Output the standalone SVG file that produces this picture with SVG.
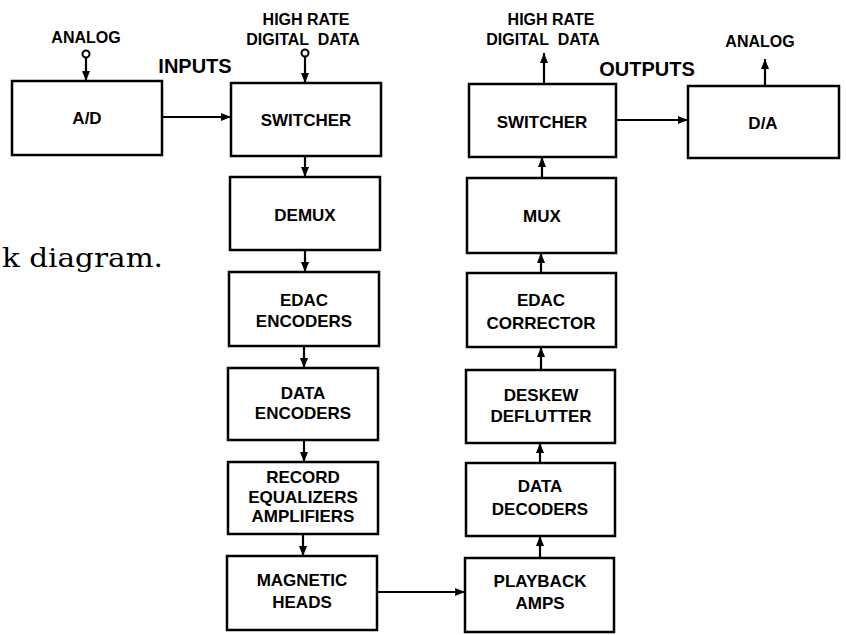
<svg xmlns="http://www.w3.org/2000/svg" width="846" height="635" viewBox="0 0 846 635">
<defs>
<style>
.box{fill:#fff;stroke:#000;stroke-width:2.5}
.ln{fill:none;stroke:#000;stroke-width:2.2;marker-end:url(#ah)}
.t{font-family:"Liberation Sans",Arial,sans-serif;font-weight:bold;font-size:17px;text-anchor:middle;fill:#000}
.lb{font-family:"Liberation Sans",Arial,sans-serif;font-weight:bold;font-size:16px;text-anchor:middle;fill:#000}
.big{font-family:"Liberation Sans",Arial,sans-serif;font-weight:bold;font-size:20px;text-anchor:middle;fill:#000}
.term{fill:#fff;stroke:#000;stroke-width:2}
.cap{font-family:"DejaVu Serif","Liberation Serif",serif;font-size:26px;fill:#000}
</style>
<marker id="ah" viewBox="0 0 10 8" refX="10" refY="4" markerWidth="10" markerHeight="8" markerUnits="userSpaceOnUse" orient="auto">
<path d="M0,0 L10,4 L0,8 z" fill="#000"/>
</marker>
</defs>
<rect width="846" height="635" fill="#fff"/>

<text class="cap" x="2" y="267" textLength="161" lengthAdjust="spacingAndGlyphs">k diagram.</text>

<text class="big" x="195" y="73">INPUTS</text>
<text class="big" x="647" y="76">OUTPUTS</text>

<g id="connectors">
<line class="ln" x1="86" y1="58" x2="86" y2="81"/>
<line class="ln" x1="305" y1="57" x2="305" y2="83"/>
<line class="ln" x1="162" y1="117" x2="231" y2="117"/>
<line class="ln" x1="305" y1="156" x2="305" y2="177"/>
<line class="ln" x1="305" y1="250" x2="305" y2="272"/>
<line class="ln" x1="304" y1="346" x2="304" y2="368"/>
<line class="ln" x1="304" y1="440" x2="304" y2="462"/>
<line class="ln" x1="303" y1="534" x2="303" y2="556"/>
<line class="ln" x1="377" y1="592" x2="465" y2="592"/>
<line class="ln" x1="540" y1="558" x2="540" y2="536"/>
<line class="ln" x1="540" y1="463" x2="540" y2="443"/>
<line class="ln" x1="541" y1="370" x2="541" y2="347"/>
<line class="ln" x1="541" y1="273" x2="541" y2="253"/>
<line class="ln" x1="542" y1="178" x2="542" y2="157"/>
<line class="ln" x1="544" y1="84" x2="544" y2="53"/>
<line class="ln" x1="616" y1="120" x2="688" y2="120"/>
<line class="ln" x1="765" y1="86" x2="765" y2="59"/>
<circle class="term" cx="86" cy="54" r="3.5"/>
<circle class="term" cx="305" cy="53" r="3.5"/>
</g>

<g id="in-analog"><text class="lb" x="86" y="43">ANALOG</text></g>
<g id="in-digital"><text class="lb" x="306" y="25">HIGH RATE</text><text class="lb" x="303" y="45" xml:space="preserve">DIGITAL  DATA</text></g>
<g id="out-digital"><text class="lb" x="551" y="25">HIGH RATE</text><text class="lb" x="543" y="45" xml:space="preserve">DIGITAL  DATA</text></g>
<g id="out-analog"><text class="lb" x="760" y="47">ANALOG</text></g>

<g id="ad"><rect class="box" x="12" y="81" width="150" height="74"/><text class="t" x="87" y="124">A/D</text></g>
<g id="switcher-in"><rect class="box" x="231" y="83" width="150" height="73"/><text class="t" x="306" y="126">SWITCHER</text></g>
<g id="demux"><rect class="box" x="230" y="177" width="150" height="73"/><text class="t" x="305" y="221">DEMUX</text></g>
<g id="edac-enc"><rect class="box" x="229" y="272" width="150" height="74"/><text class="t" x="304" y="306">EDAC</text><text class="t" x="304" y="327">ENCODERS</text></g>
<g id="data-enc"><rect class="box" x="228" y="368" width="150" height="72"/><text class="t" x="303" y="399">DATA</text><text class="t" x="303" y="419">ENCODERS</text></g>
<g id="record"><rect class="box" x="228" y="462" width="150" height="72"/><text class="t" x="303" y="483">RECORD</text><text class="t" x="303" y="503">EQUALIZERS</text><text class="t" x="303" y="522">AMPLIFIERS</text></g>
<g id="heads"><rect class="box" x="227" y="556" width="150" height="74"/><text class="t" x="302" y="586">MAGNETIC</text><text class="t" x="302" y="608">HEADS</text></g>

<g id="playback"><rect class="box" x="465" y="558" width="149" height="74"/><text class="t" x="540" y="587">PLAYBACK</text><text class="t" x="540" y="609">AMPS</text></g>
<g id="data-dec"><rect class="box" x="466" y="463" width="149" height="73"/><text class="t" x="540" y="492">DATA</text><text class="t" x="540" y="515">DECODERS</text></g>
<g id="deskew"><rect class="box" x="466" y="370" width="149" height="73"/><text class="t" x="541" y="401">DESKEW</text><text class="t" x="541" y="422">DEFLUTTER</text></g>
<g id="edac-corr"><rect class="box" x="467" y="273" width="149" height="74"/><text class="t" x="541" y="306">EDAC</text><text class="t" x="541" y="329">CORRECTOR</text></g>
<g id="mux"><rect class="box" x="467" y="178" width="149" height="75"/><text class="t" x="542" y="222">MUX</text></g>
<g id="switcher-out"><rect class="box" x="469" y="84" width="147" height="73"/><text class="t" x="542" y="128">SWITCHER</text></g>
<g id="da"><rect class="box" x="688" y="86" width="151" height="72"/><text class="t" x="763" y="129">D/A</text></g>
</svg>
